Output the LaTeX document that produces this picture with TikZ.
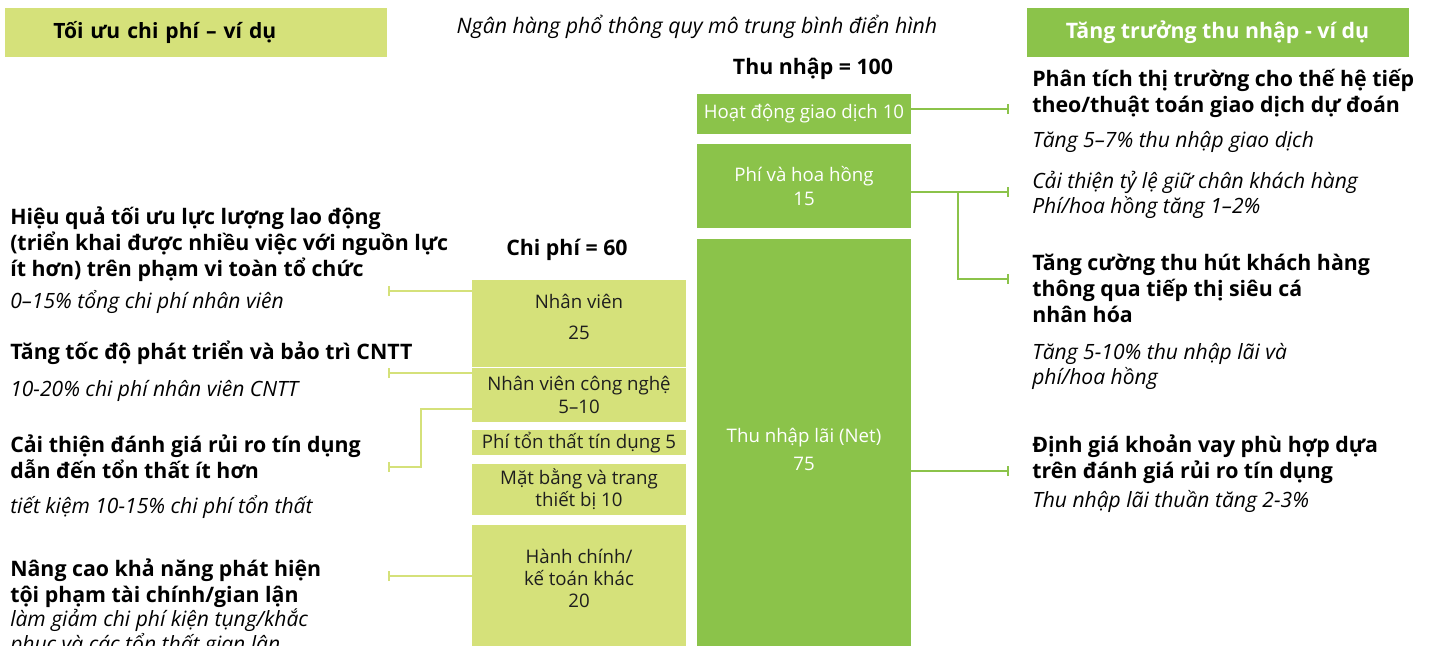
\documentclass[tikz,border=0pt]{standalone}
\usepackage{fontspec}
\setmainfont{Open Sans}
\usetikzlibrary{positioning,arrows.meta}
\definecolor{costgreen}{HTML}{D5E17A}
\definecolor{revgreen}{HTML}{8BC34A}
\definecolor{barink}{HTML}{1E1E1E}
\newcommand{\leverfont}{\bfseries\fontsize{16}{19.5}\selectfont}
\newcommand{\gainfont}{\itshape\fontsize{15.8}{18.75}\selectfont}
\newcommand{\barfont}{\fontsize{14}{16.5}\selectfont}

\begin{document}
\begin{tikzpicture}[
		x=0.75pt, y=-0.75pt
		,costbar/.style={fill=costgreen, text=barink, inner sep=0pt, outer sep=0pt, minimum width=160.5pt, align=center, font=\barfont}
		,revbar/.style={fill=revgreen, text=white, inner sep=0pt, outer sep=0pt, minimum width=160.5pt, align=center, font=\barfont}
		,barlabel/.style={inner sep=0pt, align=center, text=barink, font=\barfont}
		,lever/.style={anchor=base west, inner sep=0pt, align=left, font=\leverfont}
		,gain/.style={anchor=base west, inner sep=0pt, align=left, font=\gainfont}
		,total/.style={inner sep=0pt, font=\leverfont}
		,costlink/.style={draw=costgreen, line width=1.5pt, {Bar[width=7.5pt]}-}
		,revlink/.style={draw=revgreen, line width=1.5pt, -{Bar[width=7.5pt]}}
	]
		\useasboundingbox (0,0) rectangle (1429,646);
		\clip (0,0) rectangle (1429,646);

		\node[fill=costgreen, anchor=west, inner xsep=36pt, inner ysep=0pt, minimum height=36.75pt, text width=214.5pt, align=left, font=\bfseries\fontsize{15.8}{18}\selectfont] (costhead) at (5,32.5) {Tối ưu chi phí – ví dụ};
		\node[fill=revgreen, text=white, inner sep=0pt, minimum width=286.5pt, minimum height=36.75pt, font=\bfseries\fontsize{16}{18}\selectfont] (revhead) at (1217.5,32.5) {Tăng trưởng thu nhập - ví dụ};
		\node[inner sep=0pt, font=\itshape\fontsize{16}{18}\selectfont] (bank) at (697,27) {Ngân hàng phổ thông quy mô trung bình điển hình};
		\node[total] (revtotal) at (813,69) {Thu nhập = 100};
		\node[total] (costtotal) at (567,250) {Chi phí = 60};

		\node[revbar, minimum height=30pt, anchor=north] (trading) at (804,94) {Hoạt động giao dịch 10};
		\node[revbar, minimum height=63pt, below=7.5pt of trading] (fees) {Phí và hoa hồng\\[2pt]15};
		\node[revbar, minimum height=315.75pt, below=8.25pt of fees] (interest) {Thu nhập lãi (Net)\\[4pt]75};

		\node[costbar, minimum height=65.25pt, anchor=north] (staff) at (579,280) {};
		\node[barlabel] (stafflabel) at (579,317) {Nhân viên\\[7pt]25};
		\node[costbar, minimum height=40.5pt, below=0.75pt of staff] (techstaff) {Nhân viên công nghệ\\[1pt]5–10};
		\node[costbar, minimum height=18.75pt, below=6pt of techstaff] (creditloss) {Phí tổn thất tín dụng 5};
		\node[costbar, minimum height=38.25pt, below=6.75pt of creditloss] (premises) {Mặt bằng và trang\\thiết bị 10};
		\node[costbar, minimum height=100.5pt, below=7.5pt of premises] (adminbar) {};
		\node[barlabel] (admin) at (579,578) {Hành chính/\\kế toán khác\\20};

		\node[lever] (workforce) at (10,276) {Hiệu quả tối ưu lực lượng lao động\\(triển khai được nhiều việc với nguồn lực\\ít hơn) trên phạm vi toàn tổ chức};
		\node[gain] (workforcegain) at (10,308) {0–15\% tổng chi phí nhân viên};
		\node[lever] (itspeed) at (10,359) {Tăng tốc độ phát triển và bảo trì CNTT};
		\node[gain] (itspeedgain) at (10,396) {10-20\% chi phí nhân viên CNTT};
		\node[lever] (creditrisk) at (10,478) {Cải thiện đánh giá rủi ro tín dụng\\dẫn đến tổn thất ít hơn};
		\node[gain] (creditriskgain) at (10,513) {tiết kiệm 10-15\% chi phí tổn thất};
		\node[lever] (fraud) at (10,602) {Nâng cao khả năng phát hiện\\tội phạm tài chính/gian lận};
		\node[gain] (fraudgain) at (10,651) {làm giảm chi phí kiện tụng/khắc\\phục và các tổn thất gian lận};

		\node[lever] (analytics) at (1032,112) {Phân tích thị trường cho thế hệ tiếp\\theo/thuật toán giao dịch dự đoán};
		\node[gain] (analyticsgain) at (1032,147) {Tăng 5–7\% thu nhập giao dịch};
		\node[gain] (retention) at (1032,213) {Cải thiện tỷ lệ giữ chân khách hàng\\Phí/hoa hồng tăng 1–2\%};
		\node[lever] (marketing) at (1032,322) {Tăng cường thu hút khách hàng\\thông qua tiếp thị siêu cá\\nhân hóa};
		\node[gain] (marketinggain) at (1032,384) {Tăng 5-10\% thu nhập lãi và\\phí/hoa hồng};
		\node[lever] (pricing) at (1032,478) {Định giá khoản vay phù hợp dựa\\trên đánh giá rủi ro tín dụng};
		\node[gain] (pricinggain) at (1032,507) {Thu nhập lãi thuần tăng 2-3\%};

		\coordinate (staffend) at (388,291);
		\draw[costlink] (staffend) -- (staffend -| staff.west);
		\coordinate (techend) at (388,373);
		\draw[costlink] (techend) -- (techend -| techstaff.west);
		\coordinate (creditend) at (388,467);
		\coordinate (creditbend) at (421,409);
		\draw[costlink] (creditend) -| (creditbend) -- (creditbend -| techstaff.west);
		\coordinate (adminend) at (388,576);
		\draw[costlink] (adminend) -- (adminend -| adminbar.west);

		\coordinate (tradingend) at (1009,109);
		\draw[revlink] (tradingend -| trading.east) -- (tradingend);
		\coordinate (feesend) at (1009,192);
		\draw[revlink] (feesend -| fees.east) -- (feesend);
		\coordinate (reachbend) at (958,192);
		\coordinate (reachend) at (1009,279);
		\draw[revlink] (reachbend) |- (reachend);
		\coordinate (interestend) at (1009,471);
		\draw[revlink] (interestend -| interest.east) -- (interestend);
	\end{tikzpicture}
\end{document}
